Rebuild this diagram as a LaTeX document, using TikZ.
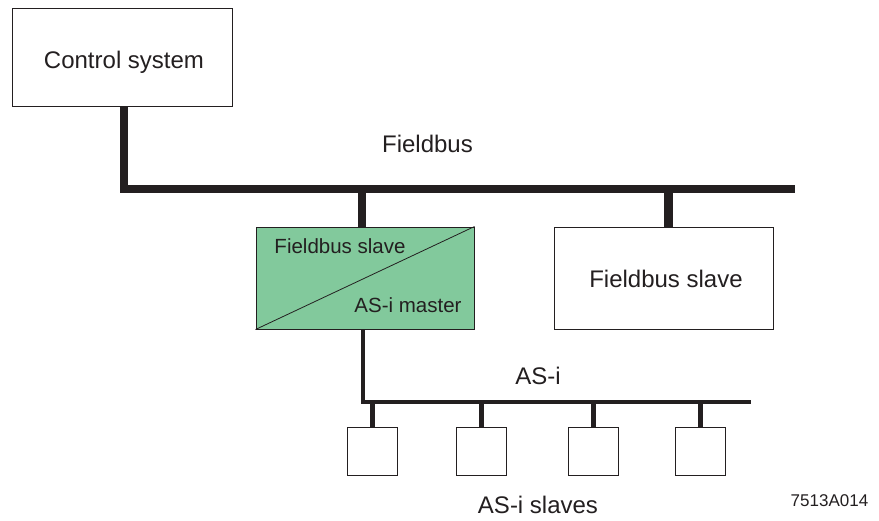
\documentclass[tikz,border=0pt]{standalone}
\usepackage{fontspec}
\setmainfont{Liberation Sans}
\usetikzlibrary{calc}
\definecolor{ink}{HTML}{231F20}
\definecolor{gwfill}{HTML}{82C99C}
\tikzset{
  unitbox/.style={draw=ink, line width=1pt, rectangle, inner sep=0pt},
  fbus/.style={draw=ink, line width=8.5pt, line join=miter},
  asibus/.style={draw=ink, line width=4pt, line join=miter},
  asidrop/.style={draw=ink, line width=5pt},
  lbl/.style={text=ink, inner sep=0pt, anchor=base, font=\fontsize{24}{28}\selectfont},
  glbl/.style={text=ink, inner sep=0pt, anchor=base, font=\fontsize{20.5}{24}\selectfont},
  codelbl/.style={text=ink, inner sep=0pt, anchor=base, font=\fontsize{17}{20}\selectfont},
  slavebox/.style={unitbox, minimum width=50pt, minimum height=48pt},
}
\begin{document}
\begin{tikzpicture}[x=1pt,y=-1pt]
\useasboundingbox (0,0) rectangle (879,520);

% Control system
\node[unitbox, minimum width=220pt, minimum height=98pt] (ctrl) at (122,57) {};
\node[lbl] (ctrltxt) at (124,68) {Control system};

% Gateway: fieldbus slave / AS-i master
\node[unitbox, fill=gwfill, minimum width=218pt, minimum height=102pt] (gw) at (365,278) {};
\draw[ink, line width=0.8pt] (gw.south west) -- (gw.north east);
\node[glbl] (gwtop) at (340,253) {Fieldbus slave};
\node[glbl] (gwbot) at (408,312) {AS-i master};

% Second fieldbus slave
\node[unitbox, minimum width=219pt, minimum height=102pt] (fs) at (663.5,278) {};
\node[lbl] (fstxt) at (666,287) {Fieldbus slave};

% Fieldbus
\coordinate (fbL) at (124,189);
\coordinate (fbR) at (795,189);
\coordinate (tapA) at (362,189);
\coordinate (tapB) at (668.5,189);
\draw[fbus] (fbL |- ctrl.south) -- (fbL) -- (fbR);
\draw[fbus] (tapA) -- (tapA |- gw.north);
\draw[fbus] (tapB) -- (tapB |- fs.north);
\node[lbl] (fbtxt) at (427.5,152) {Fieldbus};

% AS-i line
\coordinate (asiL) at (363,402);
\coordinate (asiR) at (751,402);
\draw[asibus] (asiL |- gw.south) -- (asiL) -- (asiR);
\node[lbl] (asitxt) at (538,384) {AS-i};

% AS-i slaves
\node[slavebox] (s1) at (372,451) {};
\node[slavebox] (s2) at (481.5,451) {};
\node[slavebox] (s3) at (593.5,451) {};
\node[slavebox] (s4) at (700,451) {};
\foreach \s in {s1,s2,s3,s4}
  \draw[asidrop] (\s.north) -- (\s.north |- asiL);
\node[lbl] (slavestxt) at (538,513) {AS-i slaves};

% Drawing number
\node[codelbl] (code) at (829.5,506) {7513A014};
\end{tikzpicture}
\end{document}
